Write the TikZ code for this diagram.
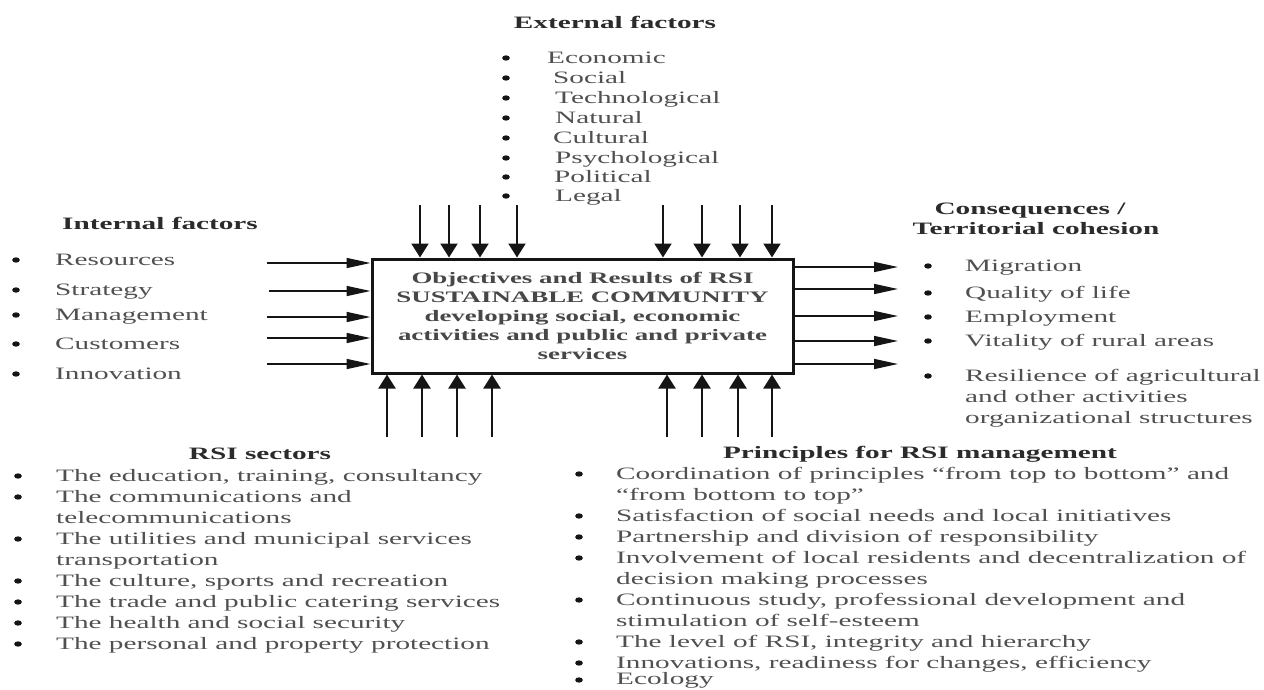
\documentclass[tikz,border=0pt]{standalone}
\usepackage{fontspec}
\setmainfont{Liberation Serif}[FakeStretch=1.68]
\usetikzlibrary{arrows.meta}
\definecolor{txt}{HTML}{505050}
\definecolor{hd}{HTML}{2B2B2B}
\definecolor{boxtxt}{HTML}{474747}
\definecolor{ln}{HTML}{151515}
\begin{document}
\begin{tikzpicture}[x=1pt,y=-1pt,
  itm/.style={anchor=base west, inner sep=0pt, text=txt, font=\fontsize{17.4}{21}\selectfont},
  hdg/.style={anchor=base, inner sep=0pt, text=hd, font=\fontsize{17.4}{21}\selectfont\bfseries},
  dot/.style={fill=ln, draw=none},
  harrow/.style={draw=ln, line width=1.6pt, -{Triangle[length=24pt,width=10pt]}},
  varrow/.style={draw=ln, line width=2.2pt, -{Triangle[length=14pt,width=17pt]}},
  mainbox/.style={draw=ln, line width=3pt, minimum width=421pt, minimum height=114pt, inner sep=0pt,
    align=center, text=boxtxt, font=\fontsize{16}{19}\selectfont\bfseries},
]
\useasboundingbox (0,0) rectangle (1264,689);

% central box
\node[mainbox] (box) at (582.5,316) {Objectives and Results of RSI\\SUSTAINABLE COMMUNITY\\developing social, economic\\activities and public and private\\services};

% External factors
\node[hdg] (exth) at (615,28) {External factors};
\node[itm] (e1) at (547,63) {Economic};
\node[itm] (e2) at (553,83) {Social};
\node[itm] (e3) at (555,103) {Technological};
\node[itm] (e4) at (555,123) {Natural};
\node[itm] (e5) at (553,143) {Cultural};
\node[itm] (e6) at (555,163) {Psychological};
\node[itm] (e7) at (554,182) {Political};
\node[itm] (e8) at (555,201) {Legal};
\foreach \y in {58,78,98,118,138,158,177,196} \fill[dot] (506,\y) ellipse (3.8pt and 2.7pt);

% Internal factors
\node[hdg] (inth) at (160,229) {Internal factors};
\node[itm] (i1) at (55,265) {Resources};
\node[itm] (i2) at (55,295) {Strategy};
\node[itm] (i3) at (55,320) {Management};
\node[itm] (i4) at (55,349) {Customers};
\node[itm] (i5) at (55,379) {Innovation};
\foreach \y in {260,290,315,344,374} \fill[dot] (16,\y) ellipse (3.8pt and 2.7pt);

% Consequences
\node[hdg] (conh1) at (1030,214) {Consequences /};
\node[hdg] (conh2) at (1036,234) {Territorial cohesion};
\node[itm] (c1) at (965,271) {Migration};
\node[itm] (c2) at (965,298) {Quality of life};
\node[itm] (c3) at (965,322) {Employment};
\node[itm] (c4) at (965,346) {Vitality of rural areas};
\node[itm] (c5) at (965,381) {Resilience of agricultural};
\node[itm] (c5b) at (965,402) {and other activities};
\node[itm] (c5c) at (965,423) {organizational structures};
\foreach \y in {266,293,317,341,376} \fill[dot] (928,\y) ellipse (3.8pt and 2.7pt);

% RSI sectors
\node[hdg] (sech) at (260,459) {RSI sectors};
\node[itm] (s1) at (56,481) {The education, training, consultancy};
\node[itm] (s2) at (56,502) {The communications and};
\node[itm] (s2b) at (56,523) {telecommunications};
\node[itm] (s3) at (56,544) {The utilities and municipal services};
\node[itm] (s3b) at (56,565) {transportation};
\node[itm] (s4) at (56,586) {The culture, sports and recreation};
\node[itm] (s5) at (56,607) {The trade and public catering services};
\node[itm] (s6) at (56,628) {The health and social security};
\node[itm] (s7) at (56,649) {The personal and property protection};
\foreach \y in {476,497,539,581,602,623,644} \fill[dot] (18,\y) ellipse (3.8pt and 2.7pt);

% Principles
\node[hdg] (prh) at (920,458) {Principles for RSI management};
\node[itm] (p1) at (616,479) {Coordination of principles “from top to bottom” and};
\node[itm] (p1b) at (616,500) {“from bottom to top”};
\node[itm] (p2) at (616,521) {Satisfaction of social needs and local initiatives};
\node[itm] (p3) at (616,542) {Partnership and division of responsibility};
\node[itm] (p4) at (616,563) {Involvement of local residents and decentralization of};
\node[itm] (p4b) at (616,584) {decision making processes};
\node[itm] (p5) at (616,605) {Continuous study, professional development and};
\node[itm] (p5b) at (616,626) {stimulation of self-esteem};
\node[itm] (p6) at (616,647) {The level of RSI, integrity and hierarchy};
\node[itm] (p7) at (616,668) {Innovations, readiness for changes, efficiency};
\node[itm] (p8) at (616,684.5) {Ecology};
\foreach \y in {474,516,537,558,600,642,663,680} \fill[dot] (579,\y) ellipse (3.8pt and 2.7pt);

% top arrows
\foreach \n/\x in {t1/420,t2/449,t3/480,t4/517,t5/663,t6/702,t7/740,t8/772}{
  \coordinate (\n) at (\x,205);
  \draw[varrow] (\n) -- (\n |- box.north);
}
% bottom arrows
\foreach \n/\x in {b1/387,b2/422,b3/457,b4/492,b5/667,b6/702,b7/738,b8/772}{
  \coordinate (\n) at (\x,437);
  \draw[varrow] (\n) -- (\n |- box.south);
}
% left arrows
\foreach \n/\y/\x in {l1/263/267,l2/291/269,l3/317/267,l4/338/267,l5/364/267}{
  \coordinate (\n) at (\x,\y);
  \draw[harrow] (\n) -- (\n -| box.west);
}
% right arrows
\foreach \n/\y in {r1/267,r2/289,r3/316,r4/341,r5/364}{
  \coordinate (\n) at (898,\y);
  \draw[harrow] (\n -| box.east) -- (\n);
}
\end{tikzpicture}
\end{document}
